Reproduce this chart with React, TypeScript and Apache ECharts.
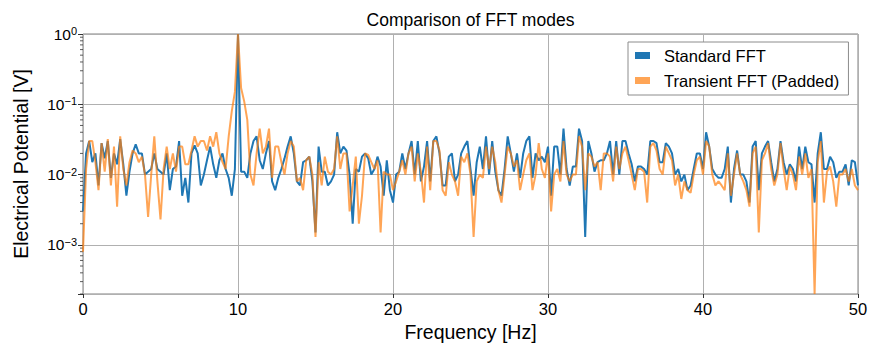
import React, { useEffect, useRef } from "react";
import * as echarts from "echarts";

const TITLE = "Comparison of FFT modes";
const X_NAME = "Frequency [Hz]";
const Y_NAME = "Electrical Potential [V]";
const SERIES_NAMES = ["Standard FFT", "Transient FFT (Padded)"];
const X_TICKS = [0, 10, 20, 30, 40, 50];
const DF = 0.2; // frequency bin width, Hz

// Standard FFT magnitude, one value per 0.2 Hz bin from 0 to 50 Hz
const STANDARD = [
  0.003, 0.02, 0.03, 0.015, 0.02, 0.007, 0.028, 0.017, 0.03, 0.009,
  0.02, 0.014, 0.032, 0.014, 0.005, 0.011, 0.02, 0.027, 0.02, 0.02,
  0.01, 0.011, 0.012, 0.02, 0.012, 0.011, 0.01, 0.02, 0.006, 0.012,
  0.013, 0.03, 0.005, 0.009, 0.004, 0.02, 0.026, 0.02, 0.007, 0.01,
  0.016, 0.025, 0.014, 0.009, 0.016, 0.02, 0.012, 0.009, 0.005, 0.012,
  1.0, 0.011, 0.011, 0.009, 0.02, 0.03, 0.035, 0.016, 0.012, 0.02,
  0.03, 0.008, 0.006, 0.009, 0.012, 0.017, 0.025, 0.035, 0.02, 0.008,
  0.007, 0.015, 0.016, 0.018, 0.008, 0.0015, 0.025, 0.011, 0.011, 0.007,
  0.008, 0.01, 0.04, 0.02, 0.025, 0.022, 0.01, 0.002, 0.012, 0.011,
  0.018, 0.02, 0.017, 0.01, 0.012, 0.018, 0.013, 0.005, 0.016, 0.006,
  0.004, 0.01, 0.011, 0.02, 0.012, 0.02, 0.03, 0.01, 0.03, 0.008,
  0.013, 0.03, 0.008, 0.03, 0.035, 0.02, 0.007, 0.007, 0.018, 0.02,
  0.008, 0.01, 0.02, 0.025, 0.03, 0.012, 0.005, 0.015, 0.025, 0.012,
  0.035, 0.01, 0.03, 0.011, 0.006, 0.005, 0.012, 0.035, 0.02, 0.011,
  0.02, 0.009, 0.02, 0.03, 0.035, 0.009, 0.02, 0.016, 0.018, 0.015,
  0.025, 0.005, 0.025, 0.025, 0.01, 0.045, 0.012, 0.007, 0.013, 0.013,
  0.045, 0.03, 0.0013, 0.03, 0.02, 0.011, 0.015, 0.016, 0.016, 0.02,
  0.03, 0.01, 0.03, 0.01, 0.03, 0.03, 0.02, 0.014, 0.008, 0.013,
  0.013, 0.012, 0.01, 0.03, 0.03, 0.028, 0.015, 0.015, 0.028, 0.025,
  0.02, 0.01, 0.012, 0.008, 0.01, 0.006, 0.007, 0.012, 0.02, 0.02,
  0.012, 0.04, 0.025, 0.012, 0.01, 0.009, 0.009, 0.012, 0.025, 0.004,
  0.012, 0.022, 0.01, 0.01, 0.008, 0.004, 0.025, 0.03, 0.006, 0.02,
  0.025, 0.03, 0.015, 0.008, 0.012, 0.03, 0.015, 0.01, 0.014, 0.012,
  0.008, 0.025, 0.012, 0.025, 0.015, 0.014, 0.004, 0.02, 0.04, 0.012,
  0.012, 0.018, 0.015, 0.009, 0.011, 0.011, 0.014, 0.007, 0.016, 0.015,
  0.007,
];

// Transient (zero-padded) FFT magnitude, same bins
const TRANSIENT = [
  0.0008, 0.012, 0.03, 0.03, 0.015, 0.006, 0.028, 0.011, 0.032, 0.007,
  0.025, 0.0035, 0.035, 0.012, 0.007, 0.015, 0.022, 0.02, 0.015, 0.018,
  0.01, 0.0025, 0.01, 0.035, 0.008, 0.0023, 0.012, 0.025, 0.012, 0.02,
  0.011, 0.025, 0.025, 0.014, 0.014, 0.022, 0.035, 0.025, 0.03, 0.03,
  0.022, 0.035, 0.025, 0.04, 0.02, 0.015, 0.012, 0.035, 0.08, 0.15,
  1.0, 0.17, 0.11, 0.06, 0.01, 0.007, 0.02, 0.045, 0.02, 0.025,
  0.045, 0.009, 0.025, 0.025, 0.015, 0.01, 0.02, 0.03, 0.025, 0.008,
  0.009, 0.006, 0.016, 0.018, 0.01, 0.0013, 0.015, 0.007, 0.018, 0.011,
  0.01, 0.012, 0.035, 0.012, 0.02, 0.02, 0.003, 0.007, 0.018, 0.002,
  0.005, 0.02, 0.019, 0.015, 0.012, 0.016, 0.0015, 0.011, 0.01, 0.01,
  0.006, 0.008, 0.011, 0.016, 0.01, 0.02, 0.025, 0.008, 0.02, 0.011,
  0.004, 0.025, 0.006, 0.03, 0.03, 0.022, 0.006, 0.005, 0.015, 0.01,
  0.008, 0.005, 0.018, 0.015, 0.02, 0.01, 0.0013, 0.008, 0.01, 0.009,
  0.025, 0.012, 0.025, 0.015, 0.006, 0.004, 0.01, 0.025, 0.02, 0.013,
  0.016, 0.006, 0.01, 0.016, 0.02, 0.006, 0.01, 0.028, 0.012, 0.009,
  0.02, 0.003, 0.01, 0.012, 0.008, 0.03, 0.01, 0.008, 0.01, 0.01,
  0.035, 0.025, 0.006, 0.02, 0.018, 0.013, 0.015, 0.006, 0.02, 0.02,
  0.018, 0.008, 0.025, 0.012, 0.02, 0.025, 0.016, 0.01, 0.006, 0.012,
  0.012, 0.011, 0.004, 0.025, 0.028, 0.022, 0.012, 0.01, 0.025, 0.02,
  0.016, 0.007, 0.01, 0.0045, 0.008, 0.006, 0.0055, 0.01, 0.016, 0.018,
  0.01, 0.03, 0.025, 0.01, 0.007, 0.008, 0.007, 0.006, 0.02, 0.005,
  0.01, 0.02, 0.01, 0.008, 0.006, 0.0035, 0.02, 0.025, 0.0015, 0.016,
  0.02, 0.028, 0.012, 0.007, 0.01, 0.028, 0.012, 0.006, 0.013, 0.01,
  0.006, 0.018, 0.01, 0.02, 0.009, 0.012, 0.0002, 0.015, 0.03, 0.004,
  0.011, 0.013, 0.008, 0.0035, 0.01, 0.01, 0.012, 0.008, 0.012, 0.007,
  0.006,
];

const FREQ = STANDARD.map((_, i) => Math.round(i * DF * 10) / 10);

const Y_MIN = 0.0002;
const Y_MAX = 1;

const FONT = "'Liberation Sans', Arial, Helvetica, sans-serif";
const BLUE = "#1f77b4";
const ORANGE = "#ff7f0e";

export default function App() {
  const ref = useRef<HTMLDivElement>(null);

  useEffect(() => {
    if (!ref.current) return;
    const chart = echarts.init(ref.current, undefined, { renderer: "svg" });

    const gridLeft = 83;
    const gridRight = 20;
    const W = 878;
    const option: any = {
      animation: false,
      backgroundColor: "#ffffff",
      textStyle: { fontFamily: FONT },
      grid: {
        left: gridLeft,
        right: gridRight,
        top: 34,
        bottom: 61,
        show: true,
        borderColor: "#808080",
        borderWidth: 1,
        backgroundColor: "transparent",
      },
      legend: {
        orient: "vertical",
        left: 628,
        top: 42,
        padding: [5, 9, 6, 7],
        itemGap: 8,
        itemWidth: 15,
        itemHeight: 7,
        icon: "rect",
        backgroundColor: "#ffffff",
        borderColor: "#8c8c8c",
        borderWidth: 1,
        textStyle: { fontFamily: FONT, fontSize: 16.5, color: "#000", padding: [0, 0, 0, 9] },
        data: SERIES_NAMES,
      },
      xAxis: {
        type: "value",
        min: X_TICKS[0],
        max: X_TICKS[X_TICKS.length - 1],
        interval: 10,
        name: X_NAME,
        nameLocation: "middle",
        nameGap: 28,
        nameTextStyle: { fontFamily: FONT, fontSize: 19.5, color: "#000" },
        axisLine: { show: false },
        axisTick: { show: true, length: 4, lineStyle: { color: "#333" } },
        axisLabel: { margin: 6, fontFamily: FONT, fontSize: 16.5, color: "#000" },
        splitLine: { show: true, lineStyle: { color: "#b0b0b0", width: 1 } },
      },
      yAxis: {
        type: "log",
        logBase: 10,
        min: Y_MIN,
        max: Y_MAX,
        name: Y_NAME,
        nameLocation: "middle",
        nameGap: 52,
        nameTextStyle: { fontFamily: FONT, fontSize: 19.5, color: "#000" },
        axisLine: { show: false },
        axisTick: { show: true, length: 5, lineStyle: { color: "#333" } },
        axisLabel: {
          margin: 6,
          color: "#000",
          formatter: (v: number) => {
            const e = Math.log10(v);
            if (Math.abs(e - Math.round(e)) > 1e-6) return "";
            const n = Math.round(e);
            const s = n < 0 ? "\u2212" + Math.abs(n) : String(n);
            return "{b|10}{s|" + s + "}";
          },
          rich: {
            b: { fontFamily: FONT, fontSize: 15.5, lineHeight: 17, color: "#000", verticalAlign: "middle" },
            s: { fontFamily: FONT, fontSize: 11, lineHeight: 11, color: "#000", verticalAlign: "top" },
          },
        },
        splitLine: { show: true, lineStyle: { color: "#b0b0b0", width: 1 } },
      },
      series: [
        {
          name: SERIES_NAMES[0],
          type: "line",
          showSymbol: false,
          symbol: "none",
          data: FREQ.map((f, i) => [f, STANDARD[i]]),
          lineStyle: { color: BLUE, width: 2 },
          itemStyle: { color: BLUE },
          z: 2,
        },
        {
          name: SERIES_NAMES[1],
          type: "line",
          showSymbol: false,
          symbol: "none",
          data: FREQ.map((f, i) => [f, TRANSIENT[i]]),
          lineStyle: { color: ORANGE, width: 2, opacity: 0.7 },
          itemStyle: { color: ORANGE, opacity: 0.7 },
          z: 3,
        },
      ],
    };
    chart.setOption(option);

    const graphics: any[] = [
      {
        type: "text",
        x: (gridLeft + (W - gridRight)) / 2,
        y: 20,
        silent: true,
        style: {
          text: TITLE,
          fontFamily: FONT,
          fontSize: 17.5,
          fill: "#000",
          align: "center",
          verticalAlign: "middle",
        },
      },
    ];
    // minor log ticks (2..9 x 10^n) placed through the axis scale
    for (let d = -4; d <= -1; d++) {
      for (let k = 2; k <= 9; k++) {
        const v = k * Math.pow(10, d);
        if (v < Y_MIN || v > Y_MAX) continue;
        const y = chart.convertToPixel({ yAxisIndex: 0 } as any, v) as unknown as number;
        if (typeof y !== "number" || isNaN(y)) continue;
        graphics.push({
          type: "line",
          shape: { x1: gridLeft - 3, y1: y, x2: gridLeft, y2: y },
          style: { stroke: "#333", lineWidth: 0.8 },
          silent: true,
        });
      }
    }
    chart.setOption({ graphic: graphics });

    return () => chart.dispose();
  }, []);

  return (
    <div
      ref={ref}
      style={{ position: "fixed", left: 0, top: 0, width: 878, height: 355 }}
    />
  );
}
